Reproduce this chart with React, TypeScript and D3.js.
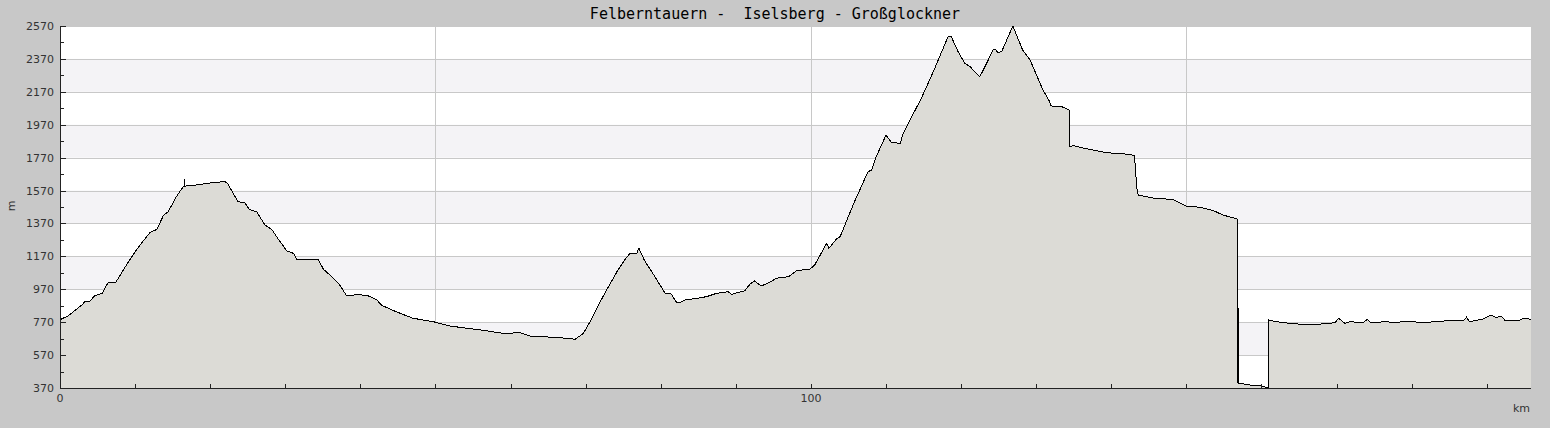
import * as React from "react";
import * as d3 from "d3";

// route profile (km along route, metres above sea level)
const distanceKm = [
  0, 1.1, 2.9, 3.3, 4.0, 4.6, 5.6, 6.4, 7.4, 8.7, 10.0, 11.0, 12.0, 12.9, 13.8, 14.4, 15.5, 16.4,
  16.55, 16.6, 16.65, 18.4, 20.6, 22.0, 22.3, 23.7, 24.6, 25.2, 26.2, 27.3, 28.2, 29.1, 30.2, 31.1,
  31.6, 32.6, 33.7, 34.4, 35.1, 36.2, 37.1, 38.2, 39.7, 41.1, 42.2, 42.8, 44.2, 45.3, 47.0, 49.7,
  51.9, 54.2, 56.8, 59.0, 61.3, 62.6, 65.7, 67.5, 68.6, 69.7, 70.6, 71.7, 72.8, 74.3, 75.2, 75.9,
  76.8, 77.1, 77.8, 78.8, 80.6, 81.4, 82.1, 82.6, 83.2, 84.8, 86.1, 87.4, 89.0, 89.4, 91.2, 91.9,
  92.5, 93.4, 94.5, 95.4, 97.0, 98.1, 99.9, 100.5, 102.1, 102.4, 103.4, 103.9, 104.8, 105.9, 107.6,
  108.1, 108.7, 110.0, 110.7, 111.9, 112.3, 113.2, 114.7, 116.3, 118.3, 118.7, 119.6, 120.5, 121.2,
  121.8, 122.5, 123.4, 124.3, 124.6, 124.9, 125.4, 126.9, 128.2, 129.2, 130.9, 131.8, 132.0, 133.4,
  134.4, 134.45, 134.9, 136.5, 139.4, 142.5, 143.1, 143.4, 143.6, 145.8, 148.2, 150.0, 151.8, 153.6,
  154.9, 156.8, 156.85, 156.9, 156.95, 157.0, 158.5, 159.8, 160.9, 161.0, 162.0, 163.8, 166.4,
  169.1, 169.8, 170.3, 171.1, 171.8, 173.5, 174.1, 174.6, 176.6, 177.5, 179.3, 182.0, 184.2, 186.9,
  187.3, 187.7, 189.5, 190.6, 191.2, 192.0, 192.4, 194.4, 195.0, 195.9,
];

const elevationM = [
  785, 809, 874, 894, 899, 929, 945, 1010, 1010, 1107, 1198, 1259, 1316, 1334, 1421, 1441, 1533, 1593,
  1597, 1640, 1597, 1605, 1620, 1624, 1614, 1502, 1496, 1456, 1441, 1360, 1334, 1273, 1204, 1188,
  1148, 1152, 1148, 1148, 1091, 1046, 1006, 929, 939, 929, 905, 874, 844, 824, 794, 773,
  747, 733, 718, 702, 706, 686, 678, 672, 666, 702, 773, 874, 966, 1087, 1148, 1188,
  1188, 1219, 1148, 1077, 945, 941, 891, 891, 905, 915, 925, 945, 955, 939, 961, 1002,
  1020, 990, 1012, 1037, 1046, 1083, 1093, 1117, 1249, 1219, 1275, 1290, 1391, 1512, 1684,
  1695, 1776, 1907, 1863, 1857, 1918, 1999, 2130, 2292, 2509, 2505, 2414, 2343, 2323,
  2292, 2262, 2343, 2428, 2428, 2408, 2414, 2570, 2424, 2363, 2181, 2110, 2084, 2080,
  2059, 1836, 1843, 1826, 1800, 1790, 1782, 1584, 1543, 1523, 1516, 1476, 1468, 1448,
  1421, 1397, 400, 854, 400, 399, 388, 384, 372, 783, 773, 763, 753,
  763, 767, 794, 763, 773, 767, 787, 767, 773, 769, 773, 769, 777, 779,
  800, 773, 789, 813, 800, 804, 783, 783, 794, 787,
];

const yTicks = [370, 570, 770, 970, 1170, 1370, 1570, 1770, 1970, 2170, 2370, 2570];
const xLabels = [0, 100];
const chartTitle = "Felberntauern -  Iselsberg - Großglockner";

export default function App() {
  const ref = React.useRef<SVGSVGElement>(null);

  React.useEffect(() => {
    document.body.style.margin = "0";
    const svg = d3.select(ref.current);
    svg.selectAll("*").remove();

    const width = 1550;
    const height = 428;
    const margin = { top: 26, right: 19, bottom: 40, left: 60 };
    const plotW = width - margin.left - margin.right;
    const plotH = height - margin.top - margin.bottom;

    const x = d3.scaleLinear().domain([0, 195.9]).range([0, plotW]);
    const y = d3.scaleLinear().domain([370, 2570]).range([plotH, 0]);

    svg.append("rect").attr("width", width).attr("height", height).attr("fill", "#c8c8c8");

    svg
      .append("text")
      .text(chartTitle)
      .attr("x", 775)
      .attr("y", 19)
      .attr("text-anchor", "middle")
      .attr("font-family", "DejaVu Sans Mono, monospace")
      .attr("font-size", "15px")
      .attr("fill", "#000")
      .style("white-space", "pre");

    const g = svg.append("g").attr("transform", "translate(" + margin.left + "," + margin.top + ")");

    g.append("rect").attr("width", plotW).attr("height", plotH).attr("fill", "#fff");

    // alternating bands
    for (let i = 0; i < yTicks.length - 1; i++) {
      if (i % 2 === 1) {
        g.append("rect")
          .attr("x", 0)
          .attr("y", y(yTicks[i + 1]))
          .attr("width", plotW)
          .attr("height", y(yTicks[i]) - y(yTicks[i + 1]))
          .attr("fill", "#f4f3f6");
      }
    }

    g.selectAll(".hgrid")
      .data(yTicks)
      .enter()
      .append("line")
      .attr("x1", 0)
      .attr("x2", plotW)
      .attr("y1", (d) => Math.round(y(d)) + 0.5)
      .attr("y2", (d) => Math.round(y(d)) + 0.5)
      .attr("stroke", "#c8c8c8");

    g.selectAll(".vgrid")
      .data([50, 100, 150])
      .enter()
      .append("line")
      .attr("x1", (d) => Math.round(x(d)) + 0.5)
      .attr("x2", (d) => Math.round(x(d)) + 0.5)
      .attr("y1", 0)
      .attr("y2", plotH)
      .attr("stroke", "#c8c8c8");

    const pts: [number, number][] = distanceKm.map((d, i) => [d, elevationM[i]]);

    const area = d3
      .area<[number, number]>()
      .x((d) => x(d[0]))
      .y0(plotH)
      .y1((d) => y(d[1]));
    g.append("path").datum(pts).attr("d", area).attr("fill", "#dcdbd6");

    const line = d3
      .line<[number, number]>()
      .x((d) => x(d[0]))
      .y((d) => y(d[1]));
    g.append("path")
      .datum(pts)
      .attr("d", line)
      .attr("fill", "none")
      .attr("stroke", "#000")
      .attr("stroke-width", 1)
      .attr("shape-rendering", "crispEdges");

    // axes
    g.append("line")
      .attr("x1", 0.5).attr("x2", 0.5).attr("y1", 0).attr("y2", plotH + 0.5)
      .attr("stroke", "#222");
    g.append("line")
      .attr("x1", 0).attr("x2", plotW).attr("y1", plotH + 0.5).attr("y2", plotH + 0.5)
      .attr("stroke", "#222");

    const yMinor = d3.range(470, 2570, 200);
    g.selectAll(".ytick")
      .data(yTicks)
      .enter()
      .append("line")
      .attr("x1", 0).attr("x2", 6)
      .attr("y1", (d) => Math.round(y(d)) + 0.5)
      .attr("y2", (d) => Math.round(y(d)) + 0.5)
      .attr("stroke", "#222");
    g.selectAll(".yminor")
      .data(yMinor)
      .enter()
      .append("line")
      .attr("x1", 0).attr("x2", 4)
      .attr("y1", (d) => Math.round(y(d)) + 0.5)
      .attr("y2", (d) => Math.round(y(d)) + 0.5)
      .attr("stroke", "#222");

    g.selectAll(".ylabel")
      .data(yTicks)
      .enter()
      .append("text")
      .text((d) => d)
      .attr("x", -6)
      .attr("y", (d) => y(d) + 4)
      .attr("text-anchor", "end")
      .attr("font-family", "DejaVu Sans, sans-serif")
      .attr("font-size", "11px")
      .attr("fill", "#333");

    const xMinor = d3.range(10, 196, 10);
    g.selectAll(".xtick")
      .data(xMinor)
      .enter()
      .append("line")
      .attr("x1", (d) => Math.round(x(d)) + 0.5)
      .attr("x2", (d) => Math.round(x(d)) + 0.5)
      .attr("y1", plotH)
      .attr("y2", plotH - 4)
      .attr("stroke", "#222");

    g.selectAll(".xlabel")
      .data(xLabels)
      .enter()
      .append("text")
      .text((d) => d)
      .attr("x", (d) => x(d))
      .attr("y", plotH + 14)
      .attr("text-anchor", "middle")
      .attr("font-family", "DejaVu Sans, sans-serif")
      .attr("font-size", "11px")
      .attr("fill", "#333");

    svg
      .append("text")
      .text("km")
      .attr("x", 1530)
      .attr("y", 412)
      .attr("text-anchor", "end")
      .attr("font-family", "DejaVu Sans, sans-serif")
      .attr("font-size", "11px")
      .attr("fill", "#333");

    svg
      .append("text")
      .text("m")
      .attr("transform", "translate(15,206) rotate(-90)")
      .attr("text-anchor", "middle")
      .attr("font-family", "DejaVu Sans, sans-serif")
      .attr("font-size", "11px")
      .attr("fill", "#333");
  }, []);

  return <svg ref={ref} width={1550} height={428} style={{ display: "block" }} />;
}
